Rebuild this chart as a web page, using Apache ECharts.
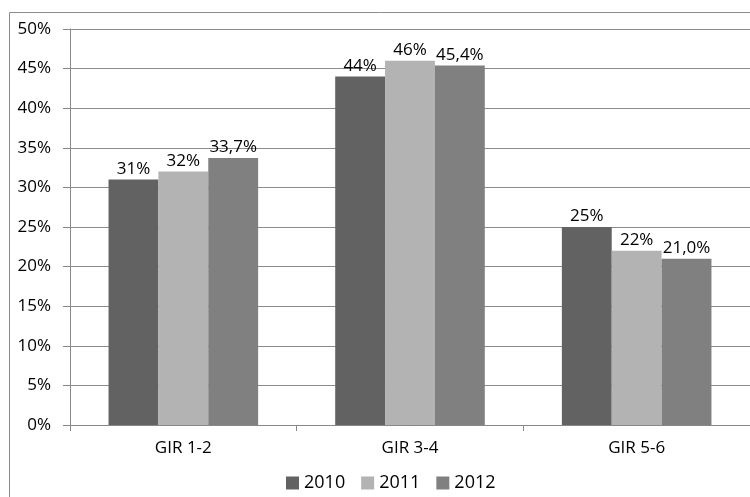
<!DOCTYPE html>
<html>
<head>
<meta charset="utf-8">
<script src="https://cdn.jsdelivr.net/npm/echarts@6/dist/echarts.min.js"></script>
<style>
  html, body { margin: 0; padding: 0; background: #fff; }
  #chart { width: 750px; height: 497px; }
</style>
</head>
<body>
<div id="chart"></div>
<script>
var categories = ['GIR 1-2', 'GIR 3-4', 'GIR 5-6']
var years = ['2010', '2011', '2012']
var values2010 = [31, 44, 25]
var values2011 = [32, 46, 22]
var values2012 = [33.7, 45.4, 21.0]
var labels2010 = ['31%', '44%', '25%']
var labels2011 = ['32%', '46%', '22%']
var labels2012 = ['33,7%', '45,4%', '21,0%']
var colors = ['#626262', '#b3b3b3', '#808080']

var font = 'Open Sans'

function makeSeries (name, data, labels, color) {
  return {
    name: name,
    type: 'bar',
    barGap: 0,
    barCategoryGap: '34%',
    data: data,
    itemStyle: { color: color },
    label: {
      show: true,
      position: 'top',
      distance: 2,
      color: '#000',
      fontFamily: font,
      fontSize: 17,
      formatter: function (p) { return labels[p.dataIndex] }
    }
  }
}

var chart = echarts.init(document.getElementById('chart'))
chart.setOption({
  animation: false,
  textStyle: { fontFamily: font },
  graphic: [{
    type: 'rect',
    shape: { x: 9.5, y: 12.5, width: 760, height: 500 },
    style: { fill: 'none', stroke: '#8c8c8c', lineWidth: 1 },
    silent: true
  }],
  grid: { left: 70, right: 0, top: 29, bottom: 72 },
  legend: {
    bottom: 0,
    left: 281,
    itemWidth: 13,
    itemHeight: 13,
    itemGap: 16,
    icon: 'rect',
    textStyle: { fontFamily: font, fontSize: 18, color: '#000', padding: [0, 0, 0, 0] },
    data: years
  },
  xAxis: {
    type: 'category',
    data: categories,
    axisLine: { lineStyle: { color: '#888' } },
    axisTick: { show: true, length: 6, lineStyle: { color: '#888' } },
    axisLabel: { color: '#000', fontSize: 17, margin: 15, fontFamily: font }
  },
  yAxis: {
    type: 'value',
    min: 0,
    max: 50,
    interval: 5,
    axisLine: { show: true, lineStyle: { color: '#888' } },
    axisTick: { show: true, length: 7, inside: false, lineStyle: { color: '#888' } },
    axisLabel: { color: '#000', fontSize: 17, margin: 19, fontFamily: font, formatter: '{value}%' },
    splitLine: { lineStyle: { color: '#8c8c8c' } }
  },
  series: [
    makeSeries(years[0], values2010, labels2010, colors[0]),
    makeSeries(years[1], values2011, labels2011, colors[1]),
    makeSeries(years[2], values2012, labels2012, colors[2])
  ]
})
</script>
</body>
</html>
